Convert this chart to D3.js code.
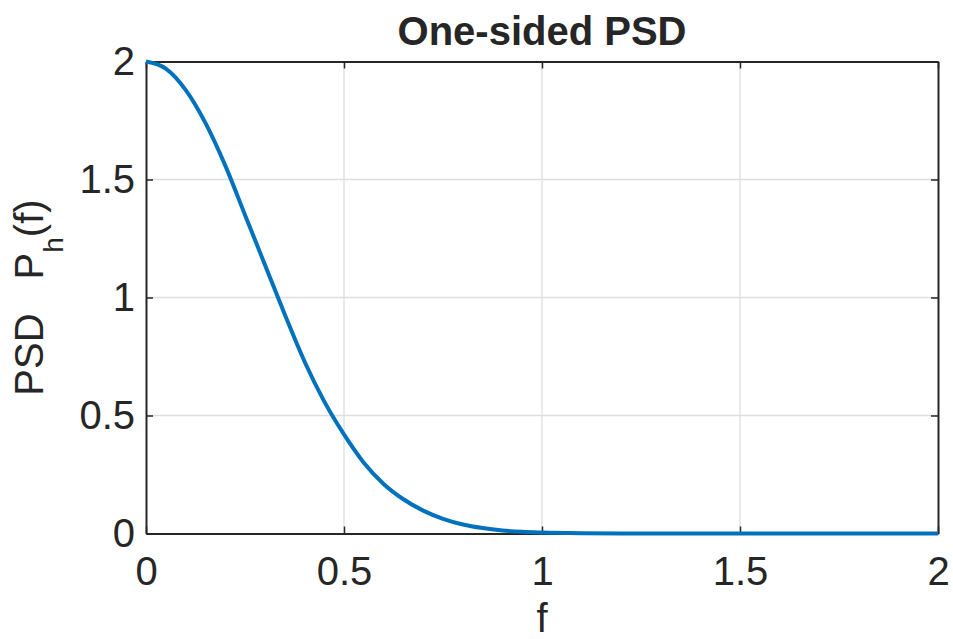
<!DOCTYPE html>
<html>
<head>
<meta charset="utf-8">
<script src="https://cdn.jsdelivr.net/npm/d3@7"></script>
<style>
  body { margin: 0; background: #fff; }
  text { font-family: "Liberation Sans", Arial, Helvetica, sans-serif; fill: #262626; }
</style>
</head>
<body>
<div id="chart"></div>
<script>
// values
const freq = [0, 0.05, 0.1, 0.15, 0.2, 0.25, 0.3, 0.35, 0.4, 0.45, 0.5, 0.55, 0.6, 0.65, 0.7,
  0.75, 0.8, 0.85, 0.9, 0.95, 1.0, 1.1, 1.2, 1.5, 2.0];
const psd = [2.0, 1.97, 1.88, 1.74, 1.56, 1.35, 1.14, 0.93, 0.73, 0.56, 0.42, 0.30, 0.21, 0.145, 0.097,
  0.062, 0.038, 0.023, 0.013, 0.007, 0.004, 0.001, 0, 0, 0];
const xTicks = [0, 0.5, 1, 1.5, 2];
const yTicks = [0, 0.5, 1, 1.5, 2];
const xTickLabels = ['0', '0.5', '1', '1.5', '2'];
const yTickLabels = ['0', '0.5', '1', '1.5', '2'];

const width = 953, height = 639;
const margin = { top: 61.5, right: 15, bottom: 105.5, left: 146 };
const innerW = width - margin.left - margin.right;
const innerH = height - margin.top - margin.bottom;

const svg = d3.select('#chart').append('svg')
  .attr('width', width)
  .attr('height', height);

const g = svg.append('g').attr('transform', `translate(${margin.left},${margin.top})`);

const x = d3.scaleLinear().domain([0, 2]).range([0, innerW]);
const y = d3.scaleLinear().domain([0, 2]).range([innerH, 0]);

// grid
g.append('g').selectAll('line').data(xTicks.slice(1, -1)).join('line')
  .attr('x1', d => x(d)).attr('x2', d => x(d))
  .attr('y1', 0).attr('y2', innerH)
  .attr('stroke', '#dedede').attr('stroke-width', 1.3);
g.append('g').selectAll('line').data(yTicks.slice(1, -1)).join('line')
  .attr('y1', d => y(d)).attr('y2', d => y(d))
  .attr('x1', 0).attr('x2', innerW)
  .attr('stroke', '#dedede').attr('stroke-width', 1.3);

function styleAxis(sel) {
  sel.select('.domain').attr('stroke', '#262626').attr('stroke-width', 2);
  sel.selectAll('.tick line').attr('stroke', '#262626').attr('stroke-width', 1.5);
  sel.selectAll('.tick text').attr('font-size', 40).attr('fill', '#262626')
    .attr('font-family', '"Liberation Sans", Arial, sans-serif');
}

const xAxis = g.append('g').attr('transform', `translate(0,${innerH})`)
  .call(d3.axisBottom(x).tickValues(xTicks).tickFormat((d, i) => xTickLabels[i])
    .tickSizeInner(-7).tickSizeOuter(0).tickPadding(23));
styleAxis(xAxis);

const yAxis = g.append('g')
  .call(d3.axisLeft(y).tickValues(yTicks).tickFormat((d, i) => yTickLabels[i])
    .tickSizeInner(-7).tickSizeOuter(0).tickPadding(11));
styleAxis(yAxis);

const topAxis = g.append('g')
  .call(d3.axisTop(x).tickValues(xTicks).tickFormat('').tickSizeInner(-7).tickSizeOuter(0));
styleAxis(topAxis);

const rightAxis = g.append('g').attr('transform', `translate(${innerW},0)`)
  .call(d3.axisRight(y).tickValues(yTicks).tickFormat('').tickSizeInner(-7).tickSizeOuter(0));
styleAxis(rightAxis);

// curve
const line = d3.line()
  .x((d, i) => x(freq[i]))
  .y(d => y(d))
  .curve(d3.curveMonotoneX);

g.append('path')
  .datum(psd)
  .attr('d', line)
  .attr('fill', 'none')
  .attr('stroke', '#0072BD')
  .attr('stroke-width', 4)
  .attr('stroke-linejoin', 'round');

// title
svg.append('text')
  .attr('x', margin.left + innerW / 2)
  .attr('y', 45)
  .attr('text-anchor', 'middle')
  .attr('font-size', 40)
  .attr('font-weight', 'bold')
  .attr('fill', '#000')
  .text('One-sided PSD');

// x label
svg.append('text')
  .attr('x', margin.left + innerW / 2)
  .attr('y', 632)
  .attr('text-anchor', 'middle')
  .attr('font-size', 40)
  .text('f');

// y label: PSD  P_h(f)
const ylab = svg.append('text')
  .attr('transform', `translate(43,${margin.top + innerH / 2}) rotate(-90)`)
  .attr('text-anchor', 'middle')
  .attr('font-size', 40);
ylab.append('tspan').text('PSD');
ylab.append('tspan').attr('dx', 34).text('P');
ylab.append('tspan').attr('font-size', 28).attr('dy', 20).text('h');
ylab.append('tspan').attr('dy', -20).text('(f)');
</script>
</body>
</html>
